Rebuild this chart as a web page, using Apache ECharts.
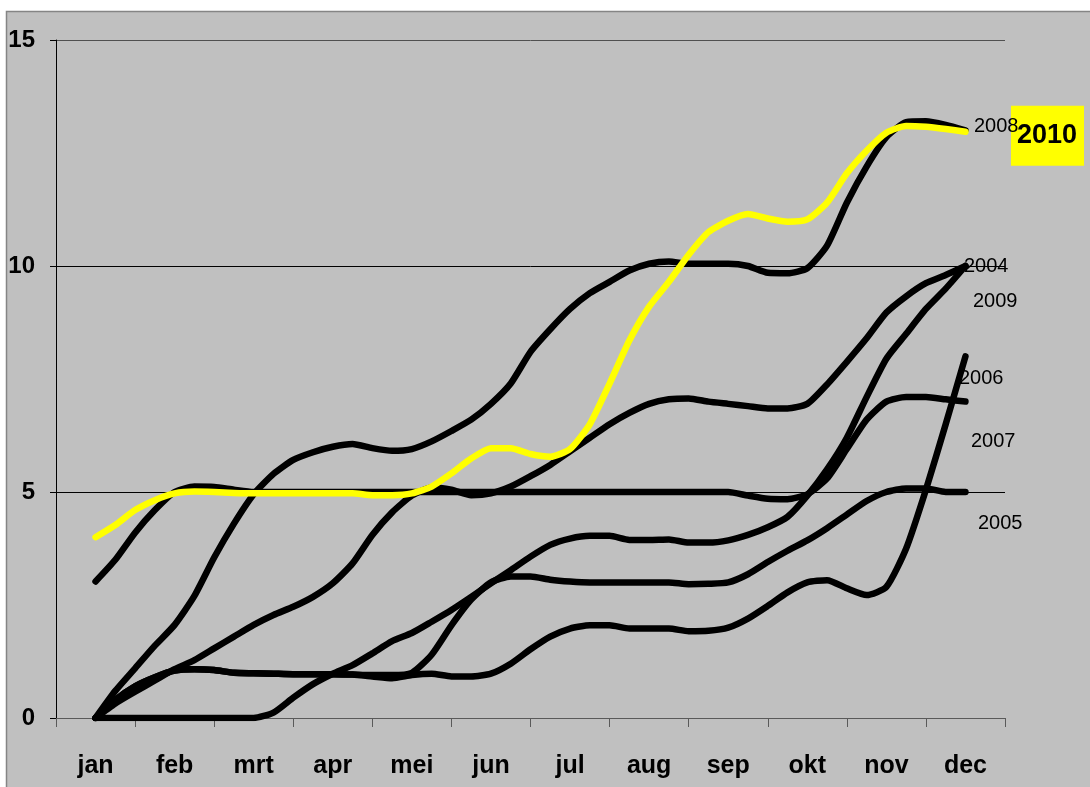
<!DOCTYPE html>
<html>
<head>
<meta charset="utf-8">
<script src="https://cdn.jsdelivr.net/npm/echarts@6/dist/echarts.min.js"></script>
<style>
  html, body { margin: 0; padding: 0; background: #ffffff; }
  #chart { width: 1090px; height: 787px; }
</style>
</head>
<body>
<div id="chart"></div>
<script>
// Tick labels (categories)
const months = ['jan', 'feb', 'mrt', 'apr', 'mei', 'jun', 'jul', 'aug', 'sep', 'okt', 'nov', 'dec'];
const yTicks = [0, 5, 10, 15];

// Cumulative values read at quarter-month steps (jan .. dec, 45 samples per year)
const y2004 = [0, 0.32, 0.58, 0.83, 1.08, 1.28, 1.54, 1.8, 2.06, 2.28, 2.46, 2.68, 2.98, 3.42, 4.05, 4.55,
  4.92, 5.1, 5.05, 4.93, 4.97, 5.12, 5.35, 5.6, 5.9, 6.2, 6.5, 6.75, 6.95, 7.05, 7.07, 7.0,
  6.95, 6.9, 6.85, 6.85, 6.95, 7.38, 7.88, 8.4, 8.97, 9.33, 9.62, 9.8, 10.0];
const y2005 = [0, 0.4, 0.7, 0.9, 1.05, 1.08, 1.06, 1.0, 0.99, 0.98, 0.97, 0.97, 0.97, 0.96, 0.95, 0.95,
  1.0, 1.4, 2.05, 2.62, 3.0, 3.13, 3.13, 3.06, 3.02, 3.0, 3.0, 3.0, 3.0, 3.0, 2.96, 2.97,
  3.0, 3.18, 3.45, 3.7, 3.93, 4.2, 4.5, 4.8, 5.0, 5.08, 5.08, 5.0, 5.0];
const y2006 = [0, 0.4, 0.7, 0.9, 1.05, 1.08, 1.06, 1.0, 0.99, 0.98, 0.97, 0.97, 0.97, 0.96, 0.92, 0.88,
  0.95, 0.98, 0.92, 0.92, 0.98, 1.2, 1.52, 1.8, 1.98, 2.05, 2.05, 1.98, 1.98, 1.98, 1.92, 1.93,
  2.0, 2.2, 2.48, 2.78, 3.0, 3.05, 2.87, 2.72, 2.9, 3.75, 5.05, 6.5, 8.0];
const y2007 = [3.02, 3.5, 4.1, 4.6, 5.0, 5.12, 5.11, 5.05, 5.0, 5.0, 5.0, 5.0, 5.0, 5.0, 5.0, 5.0,
  5.0, 5.0, 5.0, 5.0, 5.0, 5.0, 5.0, 5.0, 5.0, 5.0, 5.0, 5.0, 5.0, 5.0, 5.0, 5.0,
  5.0, 4.92, 4.85, 4.84, 4.95, 5.3, 5.95, 6.6, 7.0, 7.1, 7.1, 7.05, 7.0];
const y2008 = [0, 0.6, 1.1, 1.6, 2.06, 2.7, 3.55, 4.3, 4.95, 5.4, 5.71, 5.88, 6.0, 6.06, 5.97, 5.91,
  5.95, 6.12, 6.35, 6.6, 6.95, 7.4, 8.1, 8.6, 9.05, 9.4, 9.65, 9.9, 10.05, 10.1, 10.05, 10.05,
  10.05, 10.0, 9.85, 9.84, 9.95, 10.45, 11.4, 12.2, 12.85, 13.18, 13.2, 13.12, 13.0];
const y2009 = [0, 0, 0, 0, 0, 0, 0, 0, 0, 0.12, 0.45, 0.75, 0.98, 1.17, 1.43, 1.7,
  1.88, 2.13, 2.39, 2.68, 2.98, 3.27, 3.57, 3.83, 3.97, 4.03, 4.03, 3.94, 3.94, 3.95, 3.88, 3.88,
  3.93, 4.05, 4.22, 4.45, 4.92, 5.5, 6.2, 7.1, 7.95, 8.5, 9.05, 9.5, 10.0];
const y2010 = [4.0, 4.27, 4.6, 4.82, 4.97, 5.01, 5.0, 4.98, 4.97, 4.97, 4.97, 4.97, 4.97, 4.97, 4.93, 4.93,
  4.97, 5.12, 5.41, 5.74, 5.97, 5.97, 5.84, 5.78, 5.95, 6.5, 7.4, 8.35, 9.1, 9.65, 10.25, 10.75,
  11.0, 11.15, 11.05, 10.98, 11.03, 11.4, 12.05, 12.55, 12.95, 13.1, 13.08, 13.03, 12.97];

const FONT = "'Liberation Sans', Arial, sans-serif";

// sample position in months (0 = jan)
function toPairs(values) {
  return values.map((v, i) => [i / 4, v]);
}

function yearSeries(name, values, color, lab, labelZ) {
  const pairs = toPairs(values);
  const last = pairs[pairs.length - 1];
  return {
    name: name,
    type: 'line',
    xAxisIndex: 1,
    yAxisIndex: 0,
    data: pairs,
    smooth: 0.2,
    showSymbol: false,
    symbol: 'none',
    silent: true,
    lineStyle: { color: color, width: 6.5, cap: 'round', join: 'round' },
    markPoint: {
      z: labelZ || 5,
      symbol: 'circle',
      symbolSize: 1,
      silent: true,
      animation: false,
      itemStyle: { color: 'rgba(0,0,0,0)' },
      data: [{ coord: last, value: name }],
      label: Object.assign({
        show: true,
        position: 'right',
        distance: 0,
        formatter: name,
        color: '#000',
        fontFamily: FONT,
        fontSize: 20
      }, lab)
    }
  };
}

const chart = echarts.init(document.getElementById('chart'), null, { renderer: 'canvas' });
chart.setOption({
  animation: false,
  backgroundColor: '#ffffff',
  graphic: [{
    type: 'rect',
    z: -10,
    silent: true,
    shape: { x: 6.5, y: 11.5, width: 1100, height: 800 },
    style: { fill: '#C0C0C0', stroke: '#858585', lineWidth: 1.5 }
  }],
  grid: { left: 56, top: 40, width: 949, height: 678, containLabel: false },
  xAxis: [{
    type: 'category',
    data: months,
    boundaryGap: true,
    axisLine: { show: true, lineStyle: { color: '#5a5a5a', width: 1 } },
    axisTick: { show: true, length: 9, inside: false, lineStyle: { color: '#5a5a5a', width: 1 } },
    axisLabel: {
      margin: 36,
      color: '#000',
      fontFamily: FONT,
      fontSize: 25,
      fontWeight: 'bold'
    },
    splitLine: { show: false }
  }, {
    type: 'value',
    min: -0.5,
    max: 11.5,
    show: false,
    splitLine: { show: false }
  }],
  yAxis: {
    type: 'value',
    min: yTicks[0],
    max: yTicks[yTicks.length - 1],
    interval: yTicks[1] - yTicks[0],
    axisLine: { show: true, onZero: false, lineStyle: { color: '#000', width: 1 } },
    axisTick: { show: true, length: 6, lineStyle: { color: '#000', width: 1 } },
    axisLabel: {
      margin: 21,
      color: '#000',
      fontFamily: FONT,
      fontSize: 24,
      fontWeight: 'bold'
    },
    splitLine: {
      show: true,
      lineStyle: { color: ['#5a5a5a', '#000000', '#000000', '#505050'], width: 1 }
    }
  },
  series: [
    yearSeries('2005', y2005, '#000', { offset: [12, 31.5] }),
    yearSeries('2006', y2006, '#000', { offset: [-7, 22] }),
    yearSeries('2009', y2009, '#000', { offset: [7, 35] }),
    yearSeries('2007', y2007, '#000', { offset: [5, 39.5] }),
    yearSeries('2004', y2004, '#000', { offset: [-2, 0.5] }),
    yearSeries('2008', y2008, '#000', { offset: [8, -4] }, 7),
    yearSeries('2010', y2010, '#FFFF00', {
      offset: [45, 4],
      fontSize: 27,
      fontWeight: 'bold',
      lineHeight: 30,
      backgroundColor: '#FFFF00',
      padding: [6, 7, 24, 6]
    }, 6)
  ]
});
</script>
</body>
</html>
